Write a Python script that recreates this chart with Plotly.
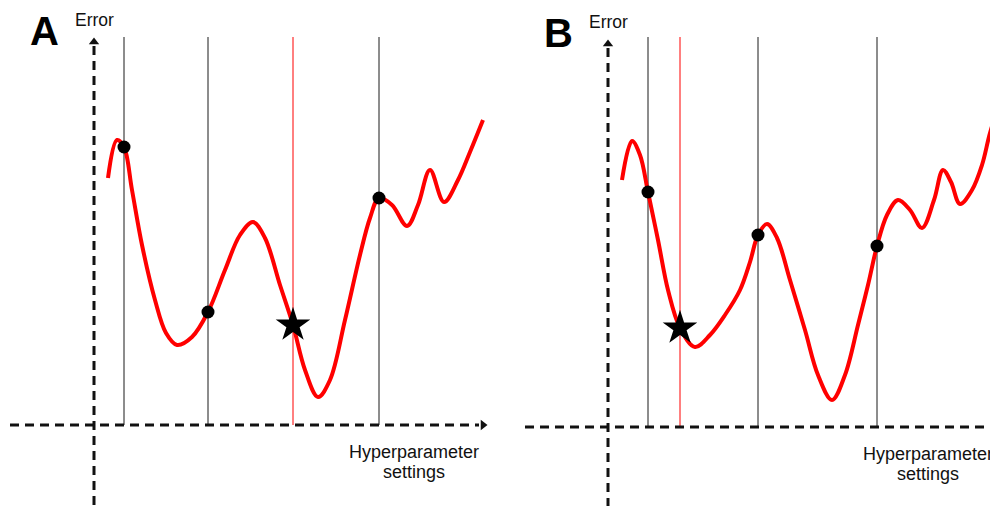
import plotly.graph_objects as go

# ---- Panel A: error curve over hyperparameter settings (grid search) ----
a_x = [0.35, 0.575, 0.75, 0.95, 1.2, 1.525, 1.8, 2.075, 2.45, 2.85, 3.275, 3.65, 3.975,
       4.275, 4.65, 4.975, 5.275, 5.6, 5.9, 6.275, 6.65, 6.9, 7.125, 7.45, 7.825, 8.1,
       8.4, 8.75, 9.1, 9.4, 9.725]
a_err = [6.175, 7.125, 6.95, 5.875, 4.5, 3.125, 2.3, 2.0, 2.2, 2.825, 3.875, 4.75, 5.075,
         4.675, 3.5, 2.5, 1.375, 0.7, 1.125, 2.625, 4.25, 5.175, 5.675, 5.5, 4.975, 5.5,
         6.375, 5.575, 6.125, 6.825, 7.625]
a_trials_x = [0.75, 2.85, 7.125]
a_trials_err = [6.95, 2.825, 5.675]
a_best_x = [4.975]
a_best_err = [2.5]

# ---- Panel B: error curve over hyperparameter settings (random search) ----
b_x = [0.35, 0.6, 0.8, 1.0, 1.25, 1.5, 1.8, 2.175, 2.55, 2.925, 3.3, 3.55, 3.75, 3.975,
       4.225, 4.55, 4.925, 5.25, 5.6, 5.925, 6.25, 6.5, 6.725, 6.975, 7.25, 7.55, 7.85,
       8.15, 8.375, 8.575, 8.8, 9.1, 9.35, 9.55, 9.8]
b_err = [6.175, 7.15, 6.8, 5.875, 4.675, 3.425, 2.475, 2.0, 2.3, 2.8, 3.425, 4.125, 4.8, 5.075,
         4.725, 3.675, 2.425, 1.3, 0.675, 1.3, 2.55, 3.55, 4.525, 5.3, 5.675, 5.425, 4.975,
         5.675, 6.425, 6.125, 5.575, 5.925, 6.55, 7.35, 8.125]
b_trials_x = [1.0, 3.75, 6.725]
b_trials_err = [5.875, 4.8, 4.525]
b_best_x = [1.8]
b_best_err = [2.475]

panel_labels = ["A", "B"]
y_title = "Error"
x_title = ["Hyperparameter", "settings"]

FONT = "Liberation Sans, Arial, sans-serif"
RED = "#ff0000"
INK = "#111111"

fig = go.Figure()


def add_panel(fig, xa, ya, cx, cy, tx, ty, bx, by, label, y_lo, y_tip, x_lo, x_tip, vtop):
    ref = dict(xaxis=xa, yaxis=ya)
    # sampled settings: thin vertical guides from the x axis upward
    for sx in tx:
        fig.add_trace(go.Scatter(x=[sx, sx], y=[0, vtop], mode="lines",
                                 line=dict(color="#1a1a1a", width=1), hoverinfo="skip", **ref))
    for sx in bx:
        fig.add_trace(go.Scatter(x=[sx, sx], y=[0, vtop], mode="lines",
                                 line=dict(color=RED, width=1), hoverinfo="skip", **ref))
    # dashed axes with arrowheads
    fig.add_trace(go.Scatter(x=[0, 0], y=[y_tip - 0.2, y_lo], mode="lines",
                             line=dict(color=INK, width=3, dash="9px,6px"), **ref))
    fig.add_trace(go.Scatter(x=[x_lo, x_tip - 0.2], y=[0, 0], mode="lines",
                             line=dict(color=INK, width=3, dash="9px,6px"), **ref))
    fig.add_trace(go.Scatter(x=[0], y=[y_tip - 0.1], mode="markers",
                             marker=dict(symbol="triangle-up", size=9, color=INK), **ref))
    fig.add_trace(go.Scatter(x=[x_tip - 0.1], y=[0], mode="markers",
                             marker=dict(symbol="triangle-right", size=9, color=INK), **ref))
    # error curve
    fig.add_trace(go.Scatter(x=cx, y=cy, mode="lines",
                             line=dict(color=RED, width=4, shape="spline", smoothing=1.0), **ref))
    # evaluated points and the best one
    fig.add_trace(go.Scatter(x=tx, y=ty, mode="markers",
                             marker=dict(symbol="circle", size=13, color="black"), **ref))
    fig.add_trace(go.Scatter(x=bx, y=by, mode="markers",
                             marker=dict(symbol="star", size=26, color="black"), **ref))

    fig.add_annotation(x=-1.25, y=9.85, xref=xa, yref=ya, text="<b>%s</b>" % label, showarrow=False,
                       font=dict(family=FONT, size=40, color="black"), xanchor="center", yanchor="middle")
    fig.add_annotation(x=0, y=10.12, xref=xa, yref=ya, text=y_title, showarrow=False,
                       font=dict(family=FONT, size=17.5, color="#111"), xanchor="center", yanchor="middle")
    fig.add_annotation(x=8.0, y=-0.68, xref=xa, yref=ya, text=x_title[0], showarrow=False,
                       font=dict(family=FONT, size=18, color="#111"), xanchor="center", yanchor="middle")
    fig.add_annotation(x=8.0, y=-1.18, xref=xa, yref=ya, text=x_title[1], showarrow=False,
                       font=dict(family=FONT, size=18, color="#111"), xanchor="center", yanchor="middle")


add_panel(fig, "x", "y", a_x, a_err, a_trials_x, a_trials_err, a_best_x, a_best_err,
          panel_labels[0], -2.025, 9.675, -2.1, 9.825, 9.7)
add_panel(fig, "x2", "y2", b_x, b_err, b_trials_x, b_trials_err, b_best_x, b_best_err,
          panel_labels[1], -1.975, 9.675, -2.075, 10.5, 9.75)

hidden = dict(visible=False, showgrid=False, zeroline=False, fixedrange=True)
fig.update_layout(
    width=990, height=506, autosize=False,
    margin=dict(l=0, r=0, t=0, b=0, pad=0),
    paper_bgcolor="white", plot_bgcolor="white",
    showlegend=False,
    xaxis=dict(domain=[0, 0.5], range=[-2.35, 10.025], **hidden),
    yaxis=dict(domain=[0, 1], range=[-2.025, 10.625], **hidden),
    xaxis2=dict(domain=[0.5, 1], range=[-2.825, 9.55], anchor="y2", **hidden),
    yaxis2=dict(domain=[0, 1], range=[-1.975, 10.675], anchor="x2", **hidden),
)

fig.write_html("out.html")
